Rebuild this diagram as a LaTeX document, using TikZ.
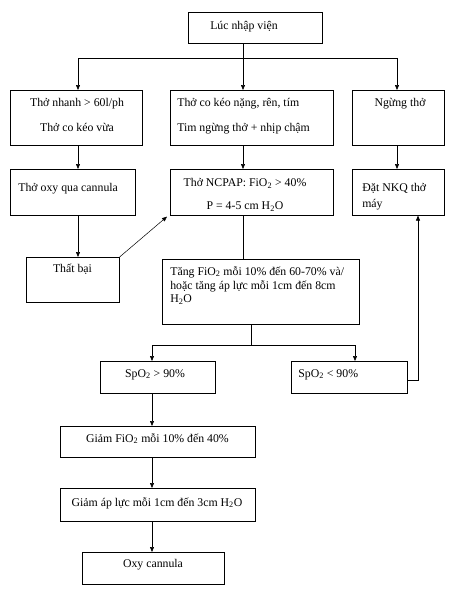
\documentclass[tikz,border=0pt]{standalone}
\usepackage{fontspec}
\setmainfont{Liberation Serif}
\usetikzlibrary{arrows.meta,positioning}

\tikzset{
  box/.style={draw, line width=0.6pt, inner sep=0pt, anchor=north west},
  txt/.style={inner sep=0pt, font=\fontsize{11.8}{14.2}\selectfont},
  arr/.style={->, >={Triangle[length=5pt,width=4pt]}},
}

\begin{document}
\begin{tikzpicture}[x=1pt, y=-1pt, line width=0.6pt]
  \useasboundingbox (0,0) rectangle (455,589);

  % boxes
  \node[box, minimum width=134pt, minimum height=31pt] (admit) at (188,12) {};
  \node[box, minimum width=132pt, minimum height=55pt] (fast)  at (10,90)  {};
  \node[box, minimum width=163pt, minimum height=55pt] (heavy) at (170,90) {};
  \node[box, minimum width=92pt,  minimum height=55pt] (apnea) at (352,90) {};
  \node[box, minimum width=125pt, minimum height=46pt] (oxy)   at (10,169) {};
  \node[box, minimum width=163pt, minimum height=46pt] (ncpap) at (170,169) {};
  \node[box, minimum width=92pt,  minimum height=46pt] (intub) at (352,169) {};
  \node[box, minimum width=93pt,  minimum height=45pt] (fail)  at (26,257) {};
  \node[box, minimum width=197pt, minimum height=65pt] (raise) at (162,259) {};
  \node[box, minimum width=115pt, minimum height=32pt] (spohi) at (100,361) {};
  \node[box, minimum width=116pt, minimum height=32pt] (spolo) at (291,361) {};
  \node[box, minimum width=195pt, minimum height=31pt] (lowfio) at (60,426) {};
  \node[box, minimum width=195pt, minimum height=33pt] (lowp)  at (60,488) {};
  \node[box, minimum width=142pt, minimum height=32pt] (cann)  at (82,552) {};

  % texts
  \node[txt, anchor=north] (admitT) at (244,21) {Lúc nhập viện};
  \node[txt, anchor=north, align=center] (fastT) at (77,98)
    {Thở nhanh > 60l/ph\\[10.8pt]Thở co kéo vừa};
  \node[txt, anchor=north west, align=left] (heavyT) at (177,98)
    {Thở co kéo nặng, rên, tím\\[10.8pt]Tim ngừng thở + nhịp chậm};
  \node[txt, anchor=north] (apneaT) at (400,98) {Ngừng thở};
  \node[txt, anchor=north west] (oxyT) at (18,183) {Thở oxy qua cannula};
  \node[txt, anchor=north, align=center] (ncpapT) at (245,178)
    {Thở NCPAP: FiO\textsubscript{2} > 40\%\\[8.8pt]P = 4-5 cm H\textsubscript{2}O};
  \node[txt, anchor=north west, align=left] (intubT) at (362,183)
    {Đặt NKQ thở\\[1.8pt]máy};
  \node[txt, anchor=north] (failT) at (72.5,264) {Thất bại};
  \node[txt, anchor=north west, align=left] (raiseT) at (170,266)
    {Tăng FiO\textsubscript{2} mỗi 10\% đến 60-70\% và/\\[0.5pt]
     hoặc tăng áp lực mỗi 1cm đến 8cm\\[-1pt]H\textsubscript{2}O};
  \node[txt, anchor=north] (spohiT) at (155,369) {SpO\textsubscript{2} > 90\%};
  \node[txt, anchor=north west] (spoloT) at (298,369) {SpO\textsubscript{2} < 90\%};
  \node[txt, anchor=north] (lowfioT) at (157.5,433) {Giảm FiO\textsubscript{2} mỗi 10\% đến 40\%};
  \node[txt, anchor=north] (lowpT) at (157,497) {Giảm áp lực mỗi 1cm đến 3cm H\textsubscript{2}O};
  \node[txt, anchor=north] (cannT) at (153,559) {Oxy cannula};

  % columns and forks
  \coordinate (colL) at (78,0);
  \coordinate (colM) at (243,0);
  \coordinate (colR) at (397,0);
  \coordinate (fork) at (243,58);
  \coordinate (fork2) at (251,345);
  \coordinate (colS) at (152,0);
  \coordinate (colT) at (355,0);
  \coordinate (back) at (418,380);

  \draw (admit.south -| fork) -- (fork);
  \draw[arr] (fork) -| (fast.north -| colL);
  \draw[arr] (fork) -- (heavy.north -| colM);
  \draw[arr] (fork) -| (apnea.north -| colR);

  \draw[arr] (fast.south -| colL) -- (oxy.north -| colL);
  \draw[arr] (heavy.south -| colM) -- (ncpap.north -| colM);
  \draw[arr] (apnea.south -| colR) -- (intub.north -| colR);
  \draw[arr] (oxy.south -| colL) -- (fail.north -| colL);
  \draw[arr, line width=0.5pt] (fail.north east) -- ([xshift=-3pt, yshift=-1pt]ncpap.south west);
  \draw (ncpap.south -| colM) -- (raise.north -| colM);

  \draw (raise.south -| fork2) -- (fork2);
  \draw[arr] (fork2) -| (spohi.north -| colS);
  \draw[arr] (fork2) -| (spolo.north -| colT);
  \draw[arr] (spolo.east |- back) -- (back) -- (intub.south -| back);

  \draw[arr] (spohi.south -| colS) -- (lowfio.north -| colS);
  \draw[arr] (lowfio.south -| colS) -- (lowp.north -| colS);
  \draw[arr] (lowp.south -| colS) -- (cann.north -| colS);
\end{tikzpicture}
\end{document}
